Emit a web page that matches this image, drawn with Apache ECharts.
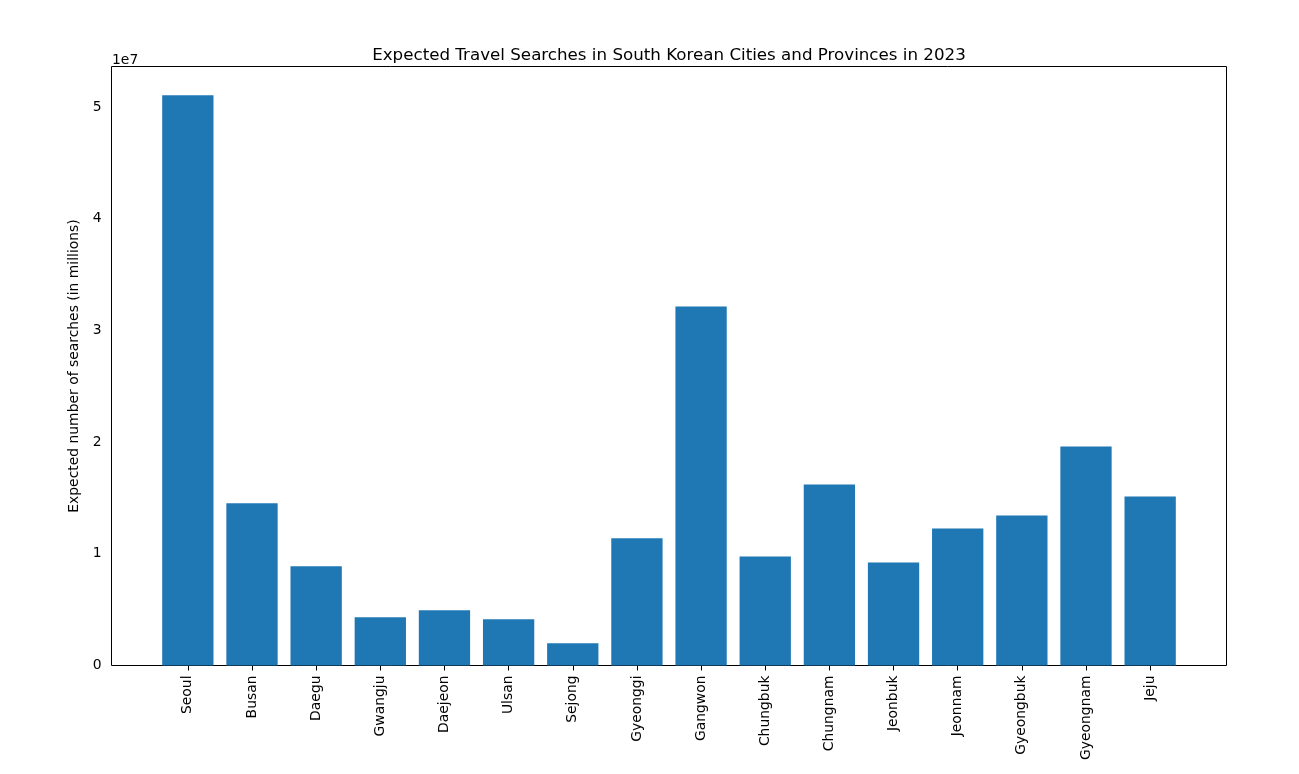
<!DOCTYPE html>
<html>
<head>
<meta charset="utf-8">
<script src="https://cdn.jsdelivr.net/npm/echarts@6/dist/echarts.min.js"></script>
<style>
  html, body { margin: 0; padding: 0; background: #fff; }
  #chart { width: 1299px; height: 774px; }
</style>
</head>
<body>
<div id="chart"></div>
<script>
// data
const regions = ['Seoul', 'Busan', 'Daegu', 'Gwangju', 'Daejeon', 'Ulsan', 'Sejong', 'Gyeonggi',
  'Gangwon', 'Chungbuk', 'Chungnam', 'Jeonbuk', 'Jeonnam', 'Gyeongbuk', 'Gyeongnam', 'Jeju']
const searches = [51060000, 14530000, 8890000, 4320000, 4950000, 4150000, 2000000, 11400000,
  32140000, 9760000, 16200000, 9220000, 12260000, 13430000, 19610000, 15130000]
const yTicks = [0, 10000000, 20000000, 30000000, 40000000, 50000000]

const font = 'DejaVu Sans'
const positions = regions.map((r, i) => i)

let myChart = echarts.init(document.getElementById('chart'))
let option = {
  animation: false,
  textStyle: { fontFamily: font },
  title: [
    {
      text: 'Expected Travel Searches in South Korean Cities and Provinces in 2023',
      left: 664,
      top: 42,
      textAlign: 'center',
      textStyle: { fontFamily: font, fontSize: 16.7, fontWeight: 'normal', color: '#000' }
    },
    {
      text: '1e7',
      left: 107,
      top: 48,
      textStyle: { fontFamily: font, fontSize: 13.9, fontWeight: 'normal', color: '#000' }
    }
  ],
  grid: {
    left: 111.5,
    top: 66.5,
    width: 1115,
    height: 599,
    show: true,
    borderColor: '#000',
    borderWidth: 1,
    backgroundColor: 'transparent'
  },
  xAxis: {
    type: 'value',
    min: -1.19,
    max: 16.19,
    splitLine: { show: false },
    axisLine: { show: false },
    axisTick: {
      show: true,
      customValues: positions,
      length: 5,
      lineStyle: { color: '#000' }
    },
    axisLabel: {
      customValues: positions,
      rotate: 90,
      margin: 10,
      fontSize: 13.9,
      fontFamily: font,
      color: '#000',
      formatter: (v) => regions[Math.round(v)]
    }
  },
  yAxis: {
    type: 'value',
    min: 0,
    max: 53630000,
    name: 'Expected number of searches (in millions)',
    nameLocation: 'middle',
    nameGap: 28,
    nameTextStyle: { fontFamily: font, fontSize: 13.9, color: '#000' },
    splitLine: { show: false },
    axisLine: { show: false },
    axisTick: {
      show: true,
      customValues: yTicks,
      length: 5,
      lineStyle: { color: '#000' }
    },
    axisLabel: {
      customValues: yTicks,
      margin: 10,
      fontSize: 13.9,
      fontFamily: font,
      color: '#000',
      formatter: (v) => String(Math.round(v / 1e7))
    }
  },
  series: [{
    type: 'bar',
    barWidth: 51.3,
    itemStyle: { color: '#1f77b4' },
    data: searches.map((v, i) => [i, v])
  }]
}
myChart.setOption(option)
</script>
</body>
</html>
